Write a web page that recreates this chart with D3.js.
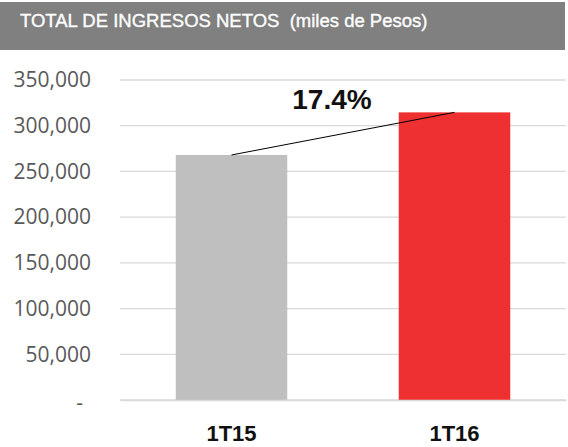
<!DOCTYPE html>
<html>
<head>
<meta charset="utf-8">
<script src="https://cdn.jsdelivr.net/npm/d3@7"></script>
<style>
body{margin:0;background:#fff;}
</style>
</head>
<body>
<script>
// data
var periods = ["1T15", "1T16"];
var ingresos = [268000, 314600];
var barColors = ["#bfbfbf", "#ee3130"];
var yTicks = [0, 50000, 100000, 150000, 200000, 250000, 300000, 350000];
var growthLabel = "17.4%";
var titleText = "TOTAL DE INGRESOS NETOS  (miles de Pesos)";

var W = 568, H = 447;
var margin = {top: 80, right: 2, bottom: 47, left: 120};//plot area
var width = W - margin.left - margin.right;
var height = H - margin.top - margin.bottom;

var svg = d3.select("body").append("svg")
    .attr("width", W)
    .attr("height", H);

// header band
svg.append("rect")
    .attr("x", 0).attr("y", 2)
    .attr("width", 565).attr("height", 48)
    .attr("fill", "#808080");
svg.append("text")
    .attr("x", 20).attr("y", 27)
    .attr("fill", "#fff")
    .attr("stroke", "#fff")
    .attr("stroke-width", 0.35)
    .style("white-space", "pre")
    .attr("font-family", "Liberation Sans, Arial, sans-serif")
    .attr("font-size", 18.5)
    .text(titleText);

var g = svg.append("g")
    .attr("transform", "translate(" + margin.left + "," + margin.top + ")");

var xScale = d3.scaleBand().domain(periods).range([0, width]).paddingInner(0.5).paddingOuter(0.25);
var yScale = d3.scaleLinear().domain([0, 350000]).range([height, 0]);

// gridlines
g.append("g")
    .selectAll("line")
    .data(yTicks)
    .join("line")
    .attr("x1", 0).attr("x2", width)
    .attr("y1", function(d){ return yScale(d); })
    .attr("y2", function(d){ return yScale(d); })
    .attr("stroke", "#d9d9d9")
    .attr("stroke-width", 1.3);

// y axis labels
var yAxis = d3.axisLeft(yScale)
    .tickValues(yTicks)
    .tickSize(0)
    .tickPadding(29)
    .tickFormat(function(d){ return d == 0 ? "-" : d3.format(",")(d); });
var ya = g.append("g").call(yAxis);
ya.select(".domain").remove();
ya.selectAll("text")
    .attr("fill", "#595959")
    .attr("font-family", "Open Sans, sans-serif")
    .attr("font-size", 21);
ya.selectAll(".tick").filter(function(d){ return d == 0; })
    .select("text").attr("dx", -8).attr("dy", "0.45em");

// bars
g.selectAll(".bar")
    .data(ingresos)
    .join("rect")
    .attr("class", "bar")
    .attr("x", function(d, i){ return xScale(periods[i]); })
    .attr("y", function(d){ return yScale(d); })
    .attr("width", xScale.bandwidth())
    .attr("height", function(d){ return height - yScale(d); })
    .attr("fill", function(d, i){ return barColors[i]; });

// growth line between bar tops
g.append("line")
    .attr("x1", xScale(periods[0]) + xScale.bandwidth() / 2)
    .attr("y1", yScale(ingresos[0]))
    .attr("x2", xScale(periods[1]) + xScale.bandwidth() / 2)
    .attr("y2", yScale(ingresos[1]))
    .attr("stroke", "#000")
    .attr("stroke-width", 1);

g.append("text")
    .attr("x", 212).attr("y", 29)
    .attr("text-anchor", "middle")
    .attr("font-family", "Liberation Sans, Arial, sans-serif")
    .attr("font-weight", "bold")
    .attr("font-size", 28)
    .attr("fill", "#111")
    .text(growthLabel);

// x axis
var xAxis = d3.axisBottom(xScale).tickSize(0).tickPadding(25);
var xa = g.append("g")
    .attr("transform", "translate(0," + height + ")")
    .call(xAxis);
xa.select(".domain").attr("stroke", "#d9d9d9").attr("stroke-width", 1.3);
xa.selectAll("text")
    .attr("fill", "#111")
    .attr("font-family", "Liberation Sans, Arial, sans-serif")
    .attr("font-weight", "bold")
    .attr("font-size", 22);
</script>
</body>
</html>
